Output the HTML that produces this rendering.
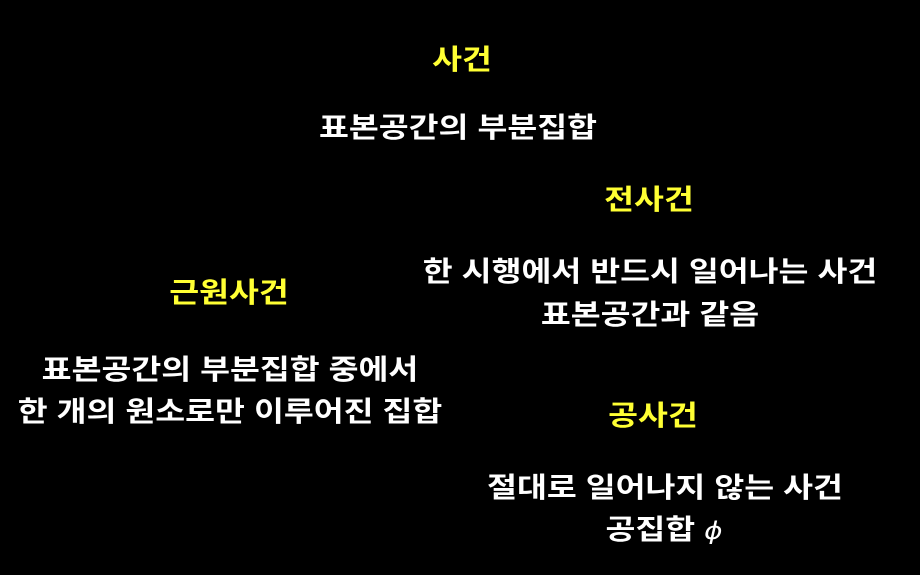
<!DOCTYPE html>
<html><head><meta charset="utf-8"><style>
html,body{margin:0;padding:0;background:#000;}
body{width:920px;height:575px;position:relative;overflow:hidden;font-family:"Liberation Sans","Noto Sans CJK KR","NanumGothic",sans-serif;font-weight:bold;}
.t{position:absolute;transform:translateX(-50%) scaleX(1.16);white-space:nowrap;font-size:28px;line-height:40px;color:#fff;text-align:center;}
.y{color:#ffff33;}
</style></head><body>
<div class="t y" style="left:462px;top:40px">사건</div>
<div class="t" style="left:458px;top:108px">표본공간의 부분집합</div>
<div class="t y" style="left:649px;top:180px">전사건</div>
<div class="t" style="left:650px;top:252px">한 시행에서 반드시 일어나는 사건</div>
<div class="t" style="left:650px;top:295px">표본공간과 같음</div>
<div class="t y" style="left:229px;top:273px">근원사건</div>
<div class="t" style="left:230px;top:350px">표본공간의 부분집합 중에서</div>
<div class="t" style="left:230px;top:392px">한 개의 원소로만 이루어진 집합</div>
<div class="t y" style="left:653px;top:396px">공사건</div>
<div class="t" style="left:665px;top:468px">절대로 일어나지 않는 사건</div>
<div class="t" style="left:664px;top:510px">공집합 <span style="font-style:italic;font-weight:normal;font-family:'DejaVu Sans',sans-serif;font-size:24px">ɸ</span></div>
</body></html>
